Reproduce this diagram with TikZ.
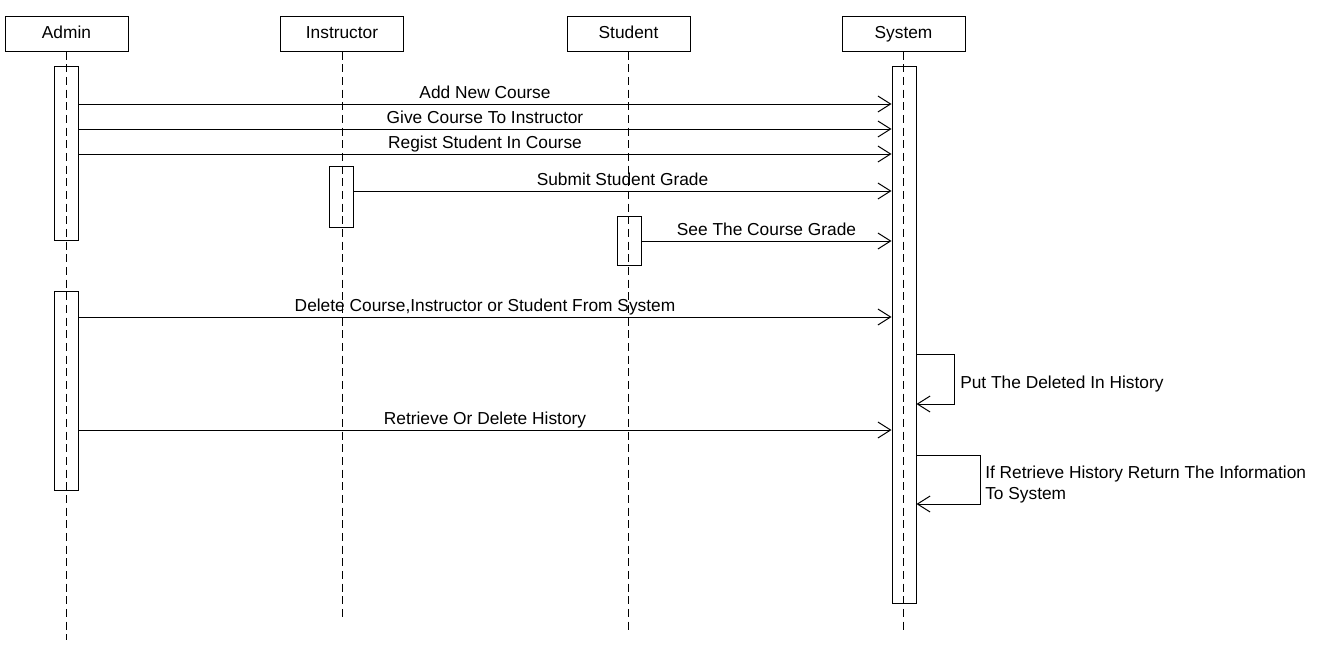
\documentclass[tikz,border=0pt]{standalone}
\usepackage{fontspec}
\setmainfont{Liberation Sans}
\usetikzlibrary{arrows.meta,positioning,calc}
\tikzset{
  actor/.style={rectangle, draw=black, fill=white, line width=0.75pt,
                minimum width=92.25pt, minimum height=26.25pt, inner sep=0pt,
                text height=9.5pt, text depth=2.5pt,
                font=\fontsize{13}{15.75}\selectfont},
  lifeline/.style={draw=black, line width=0.75pt, dash pattern=on 6pt off 3.5pt},
  actbar/.style={rectangle, draw=black, line width=0.75pt, minimum width=18pt,
                 inner sep=0pt, anchor=north},
  msg/.style={-{Straight Barb[length=9.5pt,width=12pt]}, draw=black, line width=0.75pt},
  msglbl/.style={font=\fontsize{13}{15.75}\selectfont, inner sep=4pt, text depth=0pt},
  selflbl/.style={font=\fontsize{13}{15.75}\selectfont, inner sep=0pt, anchor=west, align=left}
}
\begin{document}
\begin{tikzpicture}[x=0.75pt,y=-0.75pt]
\useasboundingbox (0,0) rectangle (1324,661);
% participants
\node[actor] (admin) at (66.5,33.5) {Admin};
\node[actor] (instr) at (342,33.5) {Instructor};
\node[actor] (student) at (628.5,33.5) {Student};
\node[actor] (system) at (903.5,33.5) {System};
% lifelines
\coordinate (adminend) at (67,640);
\coordinate (instrend) at (342,617);
\coordinate (studentend) at (629,630);
\coordinate (systemend) at (904,630);
\draw[lifeline] (admin.south) -- (admin.south |- adminend);
\draw[lifeline] (instr.south) -- (instr.south |- instrend);
\draw[lifeline] (student.south) -- (student.south |- studentend);
\draw[lifeline] (system.south) -- (system.south |- systemend);
% activation bars
\node[actbar, minimum height=130.5pt] (adminact1) at (66,66) {};
\node[actbar, minimum height=149.25pt] (adminact2) at (66,291) {};
\node[actbar, minimum height=45.75pt] (instract) at (341,166) {};
\node[actbar, minimum height=36.75pt] (studentact) at (629,216) {};
\node[actbar, minimum height=402.75pt] (sysact) at (904,66) {};
% message heights
\coordinate (m1) at (0,104);
\coordinate (m2) at (0,129);
\coordinate (m3) at (0,154);
\coordinate (m4) at (0,191);
\coordinate (m5) at (0,241);
\coordinate (m6) at (0,317);
\coordinate (m7) at (0,430);
% messages
\draw[msg] (adminact1.east |- m1) -- (sysact.west |- m1) node[msglbl, midway, above] {Add New Course};
\draw[msg] (adminact1.east |- m2) -- (sysact.west |- m2) node[msglbl, midway, above] {Give Course To Instructor};
\draw[msg] (adminact1.east |- m3) -- (sysact.west |- m3) node[msglbl, midway, above] {Regist Student In Course};
\draw[msg] (instract.east |- m4) -- (sysact.west |- m4) node[msglbl, midway, above] {Submit Student Grade};
\draw[msg] (studentact.east |- m5) -- (sysact.west |- m5) node[msglbl, midway, above] {See The Course Grade};
\draw[msg] (adminact2.east |- m6) -- (sysact.west |- m6) node[msglbl, midway, above] {Delete Course,Instructor or Student From System};
\draw[msg] (adminact2.east |- m7) -- (sysact.west |- m7) node[msglbl, midway, above] {Retrieve Or Delete History};
% self messages
\coordinate (r1a) at (954,354);
\coordinate (r1b) at (954,404);
\coordinate (r2a) at (980,455);
\coordinate (r2b) at (980,504);
\draw[msg] (sysact.east |- r1a) -- (r1a) -- (r1b) -- (sysact.east |- r1b);
\draw[msg] (sysact.east |- r2a) -- (r2a) -- (r2b) -- (sysact.east |- r2b);
\node[selflbl] (s1) at (960,384) {Put The Deleted In History};
\node[selflbl] (s2) at (985,485) {If Retrieve History Return The Information\\To System};
\end{tikzpicture}
\end{document}
